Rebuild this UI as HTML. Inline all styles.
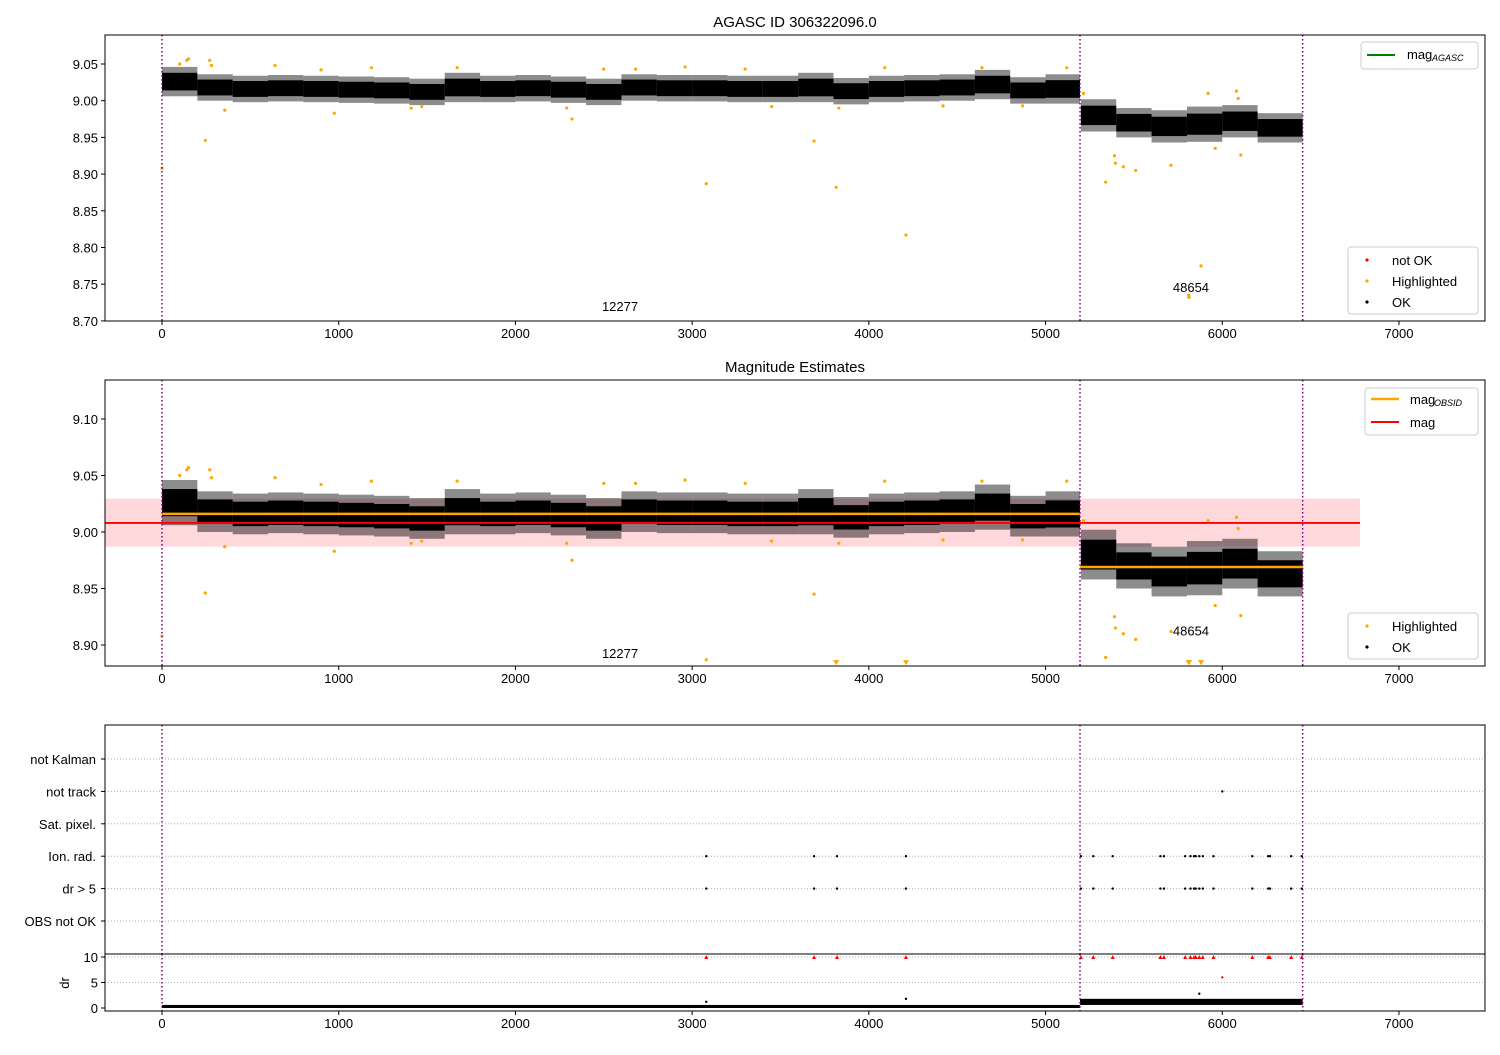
<!DOCTYPE html>
<html><head><meta charset="utf-8"><style>
body{margin:0;background:#fff}
text{font-family:"Liberation Sans","DejaVu Sans",sans-serif;font-size:13px;fill:#000}
</style></head><body>
<svg id="c" width="1500" height="1050" xmlns="http://www.w3.org/2000/svg"></svg>
<script>
// ---- data ----
const chunkX=[0,200,400,600,800,1000,1200,1400,1600,1800,2000,2200,2400,2600,2800,3000,3200,3400,3600,3800,4000,4200,4400,4600,4800,5000,5200,5400,5600,5800,6000,6200];
const chunkEnd=[200,400,600,800,1000,1200,1400,1600,1800,2000,2200,2400,2600,2800,3000,3200,3400,3600,3800,4000,4200,4400,4600,4800,5000,5195,5400,5600,5800,6000,6200,6455];
const chunkMean=[9.026,9.018,9.016,9.017,9.016,9.015,9.014,9.012,9.018,9.016,9.017,9.015,9.012,9.018,9.017,9.017,9.016,9.016,9.018,9.013,9.016,9.017,9.018,9.022,9.014,9.016,8.980,8.970,8.965,8.968,8.972,8.963];
const chunkHalf=[0.02,0.018,0.018,0.018,0.018,0.018,0.018,0.018,0.02,0.018,0.018,0.018,0.018,0.018,0.018,0.018,0.018,0.018,0.02,0.018,0.018,0.018,0.018,0.02,0.018,0.02,0.022,0.02,0.022,0.024,0.022,0.02];
const hiX=[0,100,140,150,245,270,280,355,640,900,975,1185,1410,1470,1670,2290,2320,2500,2680,2960,3080,3300,3450,3690,3815,3830,4090,4210,4420,4640,4870,5120,5215,5340,5390,5395,5440,5510,5710,5810,5812,5880,5920,5960,6080,6090,6105];
const hiY=[8.908,9.05,9.055,9.057,8.946,9.055,9.048,8.987,9.048,9.042,8.983,9.045,8.99,8.992,9.045,8.99,8.975,9.043,9.043,9.046,8.887,9.043,8.992,8.945,8.882,8.99,9.045,8.817,8.993,9.045,8.993,9.045,9.01,8.889,8.925,8.915,8.91,8.905,8.912,8.735,8.732,8.775,9.01,8.935,9.013,9.003,8.926];
const obsBreaks=[0,5195,6455];
const magObsid=[9.016,8.969];
const magMean=9.008, magLo=8.987, magHi=9.0295, magBandEnd=6780;
const obsLabels=["12277","48654"], obsLabelX=[2592,5823], obsLabelY1=[8.72,8.746], obsLabelY2=[8.893,8.913];
const flagNames=["not Kalman","not track","Sat. pixel.","Ion. rad.","dr > 5","OBS not OK"];
const eventX=[3080,3690,3820,4210,5200,5270,5380,5650,5670,5790,5820,5840,5850,5870,5890,5950,6170,6260,6270,6390,6450];
const notTrackX=[6000];
const drSegX=[0,5195],drSegEnd=[5195,6455],drSegMean=[0.3,1.2],drSegHalf=[0.3,0.6];
const drOutX=[3080,4210,5870,6000],drOutY=[1.2,1.8,2.8,6];
const xTicks=[0,1000,2000,3000,4000,5000,6000,7000];
const y1Ticks=[8.70,8.75,8.80,8.85,8.90,8.95,9.00,9.05];
const y2Ticks=[8.90,8.95,9.00,9.05,9.10];
const drTicks=[0,5,10];
// ---- axes ----
const X=v=>162+v*0.17671;
const Y1=v=>64+(9.05-v)*734;
const Y2=v=>419+(9.10-v)*1130;
const YF=i=>759+i*32.4;
const YD=v=>1008-v*5.1;
const svg=document.getElementById('c');const NS='http://www.w3.org/2000/svg';
function el(t,a,p){const e=document.createElementNS(NS,t);for(const k in a)e.setAttribute(k,a[k]);(p||svg).appendChild(e);return e;}
function txt(s,a,p){const e=el('text',a,p);e.textContent=s;return e;}
function frame(name){const g=el('g',{});return g;}
function xaxis(g,yb){xTicks.forEach(t=>{el('line',{x1:X(t),x2:X(t),y1:yb,y2:yb+4,stroke:'#000'},g);const l=txt(t,{x:X(t),y:yb+17,'text-anchor':'middle'},g);});}
function vlines(g,ya,yb){obsBreaks.forEach(b=>{const l=el('line',{x1:X(b),x2:X(b),y1:ya,y2:yb,stroke:'#800080','stroke-width':1.5,'stroke-dasharray':'1.5,2.5'},g);});}
function cloud(g,Y){chunkX.forEach((x0,i)=>{
 const h2=chunkHalf[i];
 el('rect',{x:X(x0),width:X(chunkEnd[i])-X(x0),y:Y(chunkMean[i]+h2),height:Y(chunkMean[i]-h2)-Y(chunkMean[i]+h2),fill:'#000',opacity:0.45},g);
 const h=chunkHalf[i]*0.6;
 const r=el('rect',{x:X(x0),width:X(chunkEnd[i])-X(x0),y:Y(chunkMean[i]+h),height:Y(chunkMean[i]-h)-Y(chunkMean[i]+h),fill:'#000'},g);});}
function legendBox(g,x,y,w,h){el('rect',{x,y,width:w,height:h,fill:'#fff',stroke:'#ccc',rx:3},g);}
// titles
txt('AGASC ID 306322096.0',{x:795,y:27,'text-anchor':'middle',style:'font-size:15px'});
txt('Magnitude Estimates',{x:795,y:372,'text-anchor':'middle',style:'font-size:15px'});
// panel 1
let g=frame('agasc-panel');
cloud(g,Y1);
hiX.forEach((x,i)=>{const c=el('circle',{cx:X(x),cy:Y1(hiY[i]),r:1.6,fill:'orange'},g);});
vlines(g,35,321);
obsLabels.forEach((s,i)=>txt(s,{x:X(obsLabelX[i]),y:Y1(obsLabelY1[i])+5,'text-anchor':'middle'},g));
el('rect',{x:105,y:35,width:1380,height:286,fill:'none',stroke:'#000'},g);
y1Ticks.forEach(t=>{el('line',{x1:101,x2:105,y1:Y1(t),y2:Y1(t),stroke:'#000'},g);txt(t.toFixed(2),{x:98,y:Y1(t)+5,'text-anchor':'end'},g);});
xaxis(g,321);
let lg=el('g',{},g);
legendBox(lg,1361,42,117,27);el('line',{x1:1367,x2:1395,y1:55,y2:55,stroke:'green','stroke-width':2},lg);
txt('mag',{x:1407,y:59},lg);txt('AGASC',{x:1432,y:61,style:'font-size:9px;font-style:italic'},lg);
lg=el('g',{},g);
legendBox(lg,1348,247,130,67);
[['not OK','red',260],['Highlighted','orange',281],['OK','#000',302]].forEach(a=>{el('circle',{cx:1367,cy:a[2],r:1.6,fill:a[1]},lg);txt(a[0],{x:1392,y:a[2]+5},lg);});
// panel 2
g=frame('magnitude-panel');
el('rect',{x:105,y:Y2(magHi),width:X(magBandEnd)-105,height:Y2(magLo)-Y2(magHi),fill:'#ffd8dc'},g);
cloud(g,Y2);
magObsid.forEach((m,i)=>{const l=el('line',{x1:X(obsBreaks[i]),x2:X(obsBreaks[i+1]),y1:Y2(m),y2:Y2(m),stroke:'orange','stroke-width':2.5},g);});
el('line',{x1:105,x2:X(magBandEnd),y1:Y2(magMean),y2:Y2(magMean),stroke:'red','stroke-width':1.8},g);
hiX.forEach((x,i)=>{const v=hiY[i];let c;if(v<8.884){c=el('path',{d:`M${X(x)-3},${Y2(8.884)-3}h6l-3,5z`,fill:'orange'},g);}else c=el('circle',{cx:X(x),cy:Y2(v),r:1.6,fill:'orange'},g);});
vlines(g,380,666);
obsLabels.forEach((s,i)=>txt(s,{x:X(obsLabelX[i]),y:Y2(obsLabelY2[i])+5,'text-anchor':'middle'},g));
el('rect',{x:105,y:380,width:1380,height:286,fill:'none',stroke:'#000'},g);
y2Ticks.forEach(t=>{el('line',{x1:101,x2:105,y1:Y2(t),y2:Y2(t),stroke:'#000'},g);txt(t.toFixed(2),{x:98,y:Y2(t)+5,'text-anchor':'end'},g);});
xaxis(g,666);
lg=el('g',{},g);
legendBox(lg,1365,388,113,47);el('line',{x1:1371,x2:1399,y1:399,y2:399,stroke:'orange','stroke-width':2.5},lg);el('line',{x1:1371,x2:1399,y1:422,y2:422,stroke:'red','stroke-width':2},lg);
txt('mag',{x:1410,y:404},lg);txt('OBSID',{x:1434,y:406,style:'font-size:9px;font-style:italic'},lg);txt('mag',{x:1410,y:427},lg);
lg=el('g',{},g);
legendBox(lg,1348,613,130,46);
[['Highlighted','orange',626],['OK','#000',647]].forEach(a=>{el('circle',{cx:1367,cy:a[2],r:1.6,fill:a[1]},lg);txt(a[0],{x:1392,y:a[2]+5},lg);});
// panel 3 flags
g=frame('flags-panel');
flagNames.forEach((n,i)=>{el('line',{x1:105,x2:1485,y1:YF(i),y2:YF(i),stroke:'#b0b0b0','stroke-dasharray':'1,2'},g);const t=txt(n,{x:96,y:YF(i)+5,'text-anchor':'end'},g);el('line',{x1:101,x2:105,y1:YF(i),y2:YF(i),stroke:'#000'},g);});
eventX.forEach(x=>{[3,4].forEach(i=>{const c=el('circle',{cx:X(x),cy:YF(i),r:1.2,fill:'#000'},g);});});
notTrackX.forEach(x=>el('circle',{cx:X(x),cy:YF(1),r:1.2,fill:'#000'},g));
vlines(g,725,954);
el('rect',{x:105,y:725,width:1380,height:229,fill:'none',stroke:'#000'},g);
// dr panel
g=frame('dr-panel');
[5,10].forEach(t=>el('line',{x1:105,x2:1485,y1:YD(t),y2:YD(t),stroke:'#b0b0b0','stroke-dasharray':'1,2'},g));
drSegX.forEach((x0,i)=>{const r=el('rect',{x:X(x0),width:X(drSegEnd[i])-X(x0),y:YD(drSegMean[i]+drSegHalf[i]),height:YD(drSegMean[i]-drSegHalf[i])-YD(drSegMean[i]+drSegHalf[i]),fill:'#000'},g);});
eventX.forEach(x=>{const c=el('path',{d:`M${X(x)-2},${YD(10)+2}h4l-2,-4z`,fill:'red'},g);});
drOutX.forEach((x,i)=>el('circle',{cx:X(x),cy:YD(drOutY[i]),r:1.2,fill:x==6000?'red':'#000'},g));
vlines(g,954,1011);
el('rect',{x:105,y:954,width:1380,height:57,fill:'none',stroke:'#000'},g);
drTicks.forEach(t=>{el('line',{x1:101,x2:105,y1:YD(t),y2:YD(t),stroke:'#000'},g);txt(t,{x:98,y:YD(t)+5,'text-anchor':'end'},g);});
const dl=txt('dr',{x:69,y:983,'text-anchor':'middle',transform:'rotate(-90 69 983)'},g);
xaxis(g,1011);
</script>
</body></html>
